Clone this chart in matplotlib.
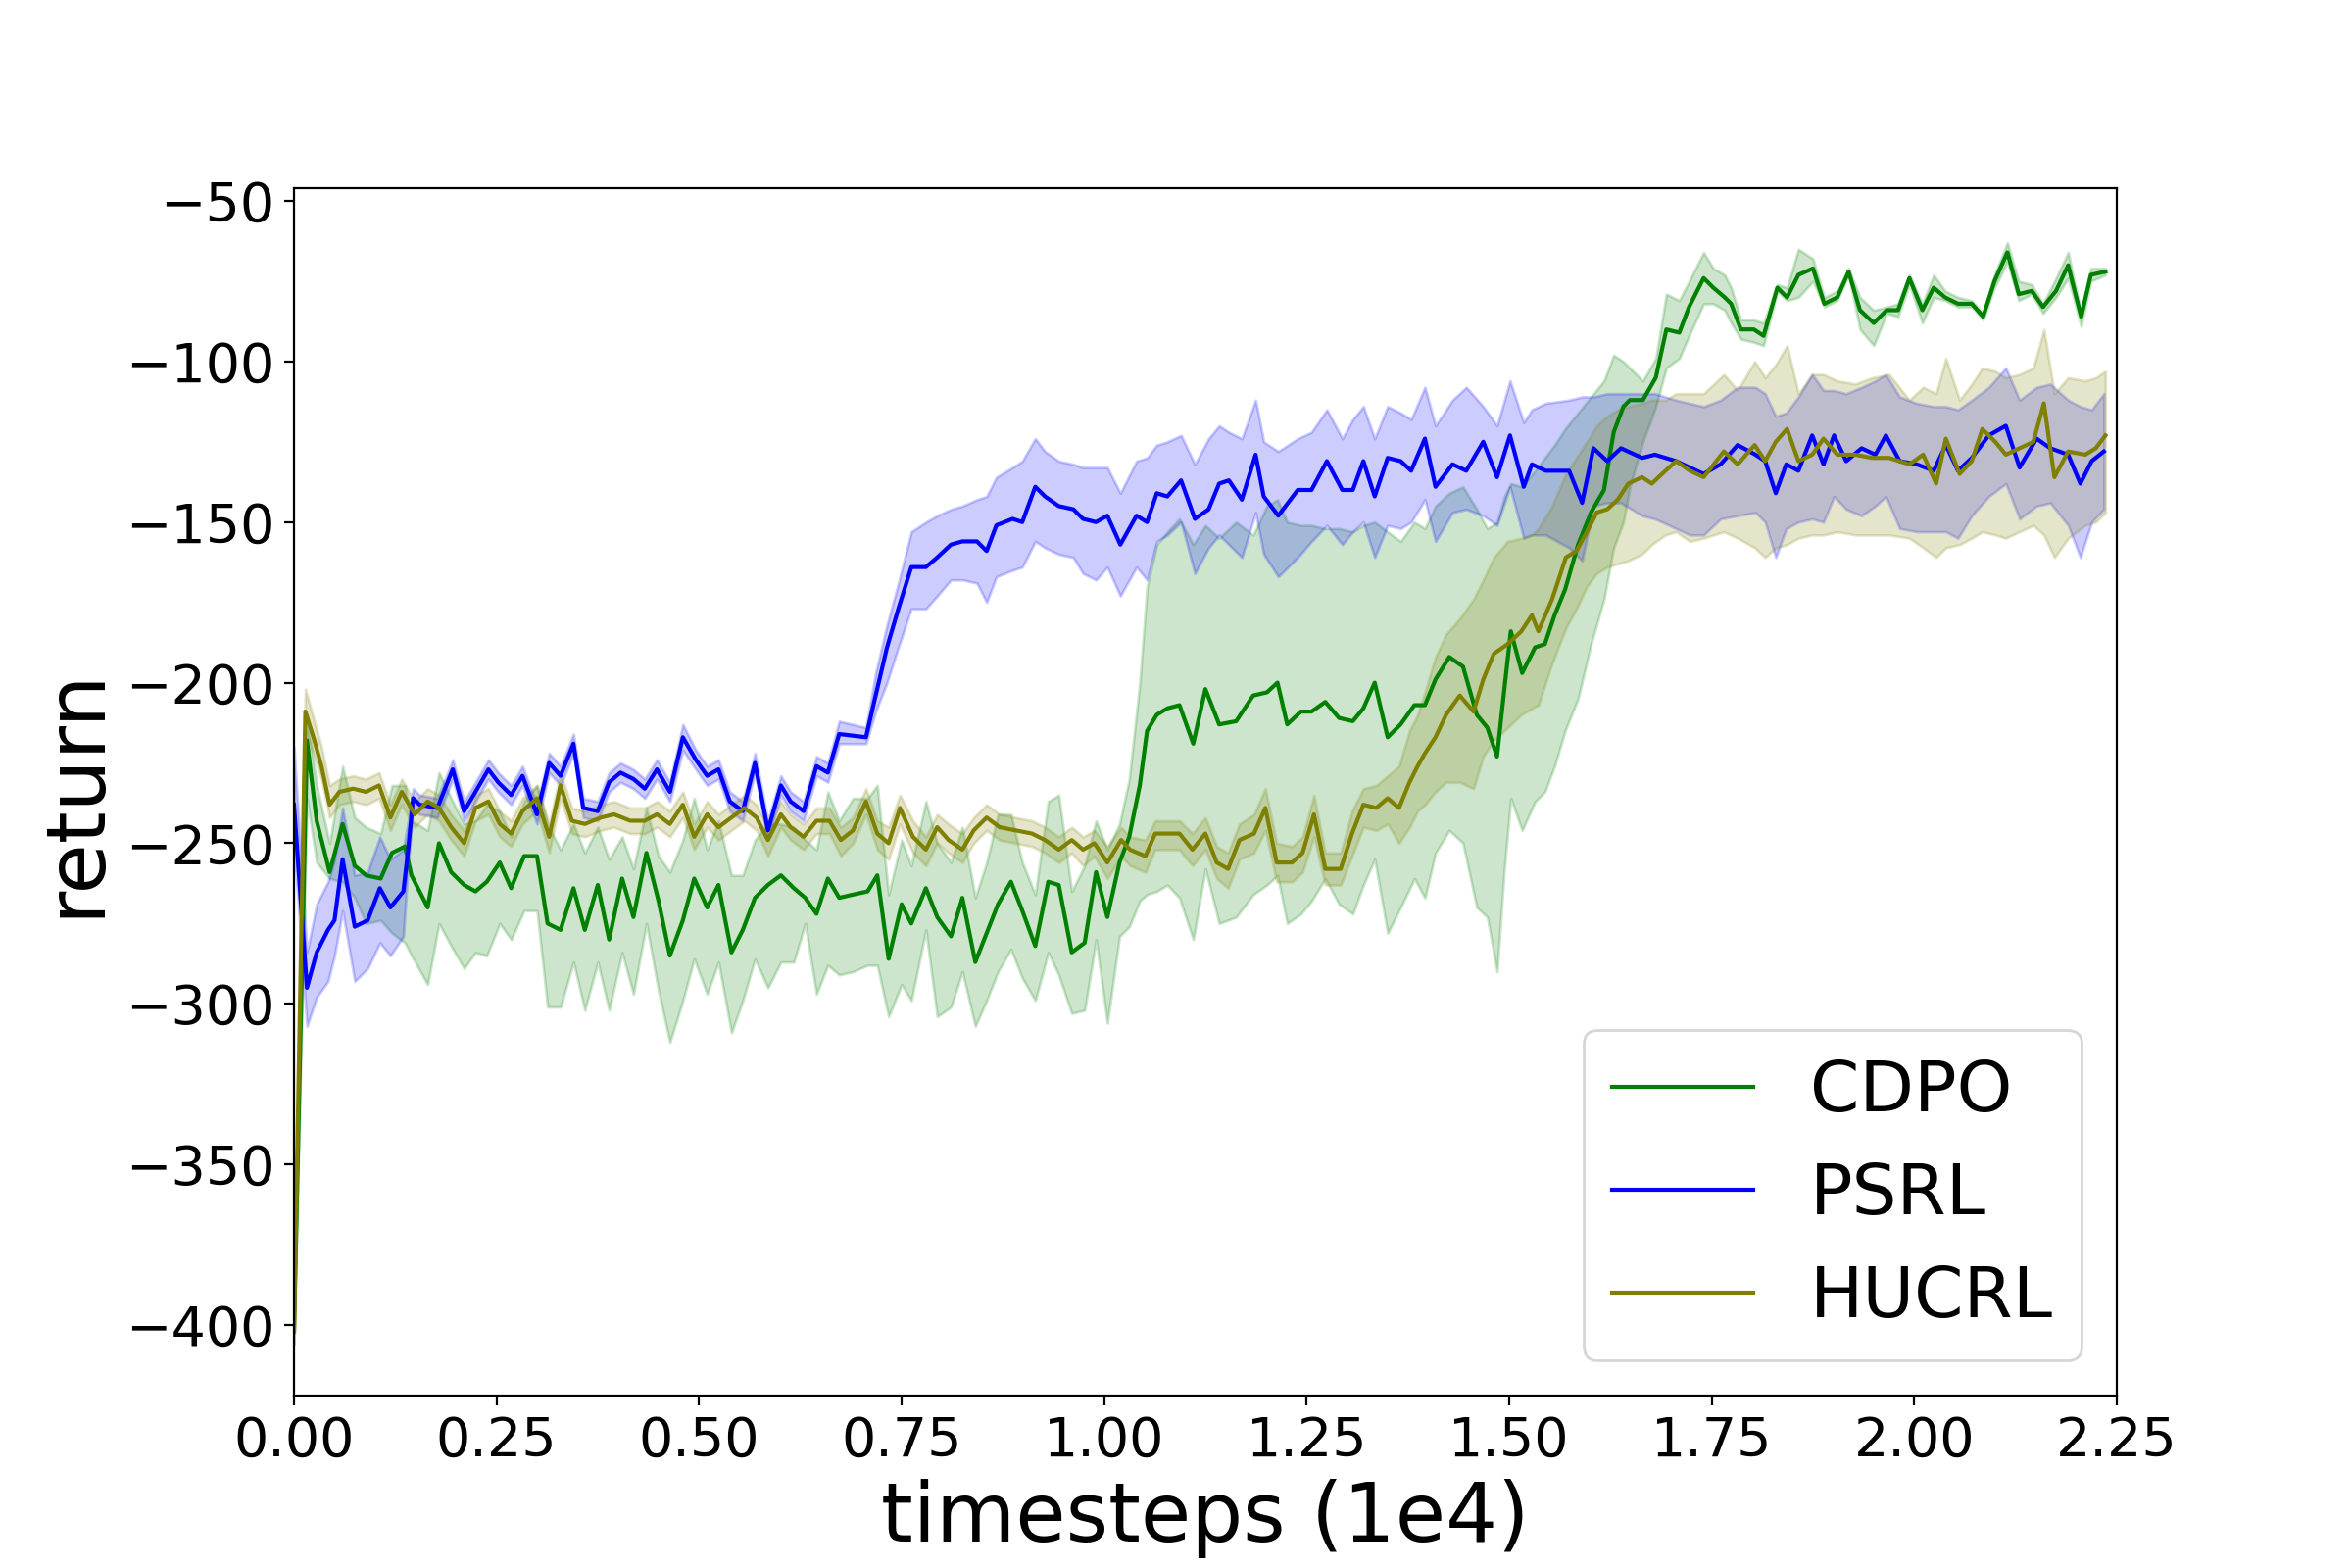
import matplotlib
matplotlib.use("Agg")
import matplotlib.pyplot as plt

# values: x in units of 1e4 timesteps, mean return and band edges

CDPO_X = [0.000, 0.016, 0.028, 0.044, 0.060, 0.075, 0.089, 0.107, 0.121, 0.137,
          0.145, 0.165, 0.179, 0.194, 0.210, 0.224, 0.238, 0.254, 0.268, 0.284,
          0.300, 0.313, 0.329, 0.345, 0.359, 0.375, 0.389, 0.405, 0.419, 0.435,
          0.450, 0.464, 0.480, 0.494, 0.510, 0.524, 0.540, 0.554, 0.569, 0.585,
          0.601, 0.617, 0.631, 0.645, 0.659, 0.673, 0.690, 0.708, 0.720, 0.734,
          0.750, 0.762, 0.780, 0.794, 0.811, 0.825, 0.841, 0.855, 0.869, 0.885,
          0.899, 0.915, 0.931, 0.944, 0.960, 0.976, 0.990, 1.004, 1.019, 1.031,
          1.044, 1.053, 1.065, 1.078, 1.093, 1.110, 1.125, 1.142, 1.163, 1.184,
          1.201, 1.214, 1.226, 1.243, 1.256, 1.273, 1.290, 1.307, 1.320, 1.334,
          1.350, 1.366, 1.383, 1.396, 1.409, 1.426, 1.443, 1.460, 1.473, 1.485,
          1.494, 1.502, 1.516, 1.532, 1.544, 1.556, 1.569, 1.585, 1.601, 1.617,
          1.629, 1.641, 1.649, 1.665, 1.681, 1.694, 1.710, 1.722, 1.740, 1.752,
          1.766, 1.774, 1.786, 1.802, 1.814, 1.831, 1.843, 1.857, 1.875, 1.889,
          1.905, 1.919, 1.933, 1.950, 1.966, 1.980, 1.994, 2.010, 2.024, 2.038,
          2.054, 2.071, 2.085, 2.099, 2.115, 2.129, 2.145, 2.159, 2.175, 2.190,
          2.206, 2.218, 2.236]
CDPO_MEAN = [-402, -218, -243, -259, -244, -257, -260, -261, -253, -251,
             -260, -270, -250, -259, -263, -265, -262, -256, -264, -254,
             -254, -275, -277, -264, -277, -263, -280, -261, -273, -253,
             -268, -285, -274, -261, -270, -263, -284, -277, -267, -263,
             -260, -264, -267, -272, -261, -267, -266, -265, -260, -286,
             -269, -275, -264, -273, -279, -267, -287, -278, -269, -262,
             -271, -282, -262, -263, -284, -281, -259, -273, -256, -248,
             -232, -215, -210, -208, -207, -219, -202, -213, -212, -204,
             -203, -200, -213, -209, -209, -206, -211, -212, -208, -200,
             -217, -213, -207, -207, -199, -192, -195, -210, -214, -223,
             -202, -184, -197, -189, -188, -179, -171, -157, -147, -140,
             -122, -114, -112, -112, -105, -90, -91, -83, -74, -77,
             -80, -82, -90, -90, -92, -77, -80, -73, -71, -82,
             -80, -72, -84, -88, -84, -84, -74, -84, -77, -80,
             -82, -82, -86, -75, -66, -79, -78, -83, -78, -70,
             -86, -73, -72]
CDPO_LO = [-406, -236, -256, -261, -262, -267, -275, -274, -278, -281,
           -285, -294, -275, -282, -289, -284, -285, -275, -280, -271,
           -271, -301, -301, -287, -302, -287, -302, -284, -297, -275,
           -296, -312, -299, -286, -297, -287, -309, -299, -286, -295,
           -287, -287, -275, -297, -288, -291, -290, -288, -288, -304,
           -294, -299, -277, -304, -301, -290, -307, -299, -290, -283,
           -292, -299, -284, -291, -303, -302, -280, -306, -279, -276,
           -268, -266, -265, -263, -267, -280, -258, -275, -273, -266,
           -263, -260, -275, -272, -268, -261, -269, -272, -263, -255,
           -278, -270, -261, -267, -253, -246, -250, -270, -273, -290,
           -258, -236, -246, -237, -234, -226, -215, -205, -188, -174,
           -158, -150, -139, -125, -114, -102, -99, -92, -82, -82,
           -84, -88, -93, -94, -95, -78, -81, -80, -75, -83,
           -81, -73, -90, -95, -85, -86, -76, -88, -80, -81,
           -83, -83, -87, -77, -69, -81, -79, -85, -80, -74,
           -89, -75, -73]
CDPO_HI = [-398, -210, -232, -250, -226, -242, -245, -247, -232, -232,
           -243, -246, -228, -236, -244, -243, -238, -240, -248, -237,
           -232, -244, -252, -244, -253, -245, -255, -248, -258, -239,
           -254, -259, -249, -236, -252, -243, -260, -260, -249, -244,
           -244, -245, -249, -252, -234, -243, -236, -236, -232, -266,
           -249, -257, -237, -250, -256, -245, -267, -256, -241, -241,
           -256, -266, -237, -235, -265, -257, -243, -252, -244, -230,
           -200, -170, -157, -153, -149, -157, -151, -155, -150, -154,
           -145, -143, -150, -151, -151, -152, -152, -153, -151, -150,
           -153, -156, -150, -152, -145, -141, -139, -146, -152, -150,
           -142, -138, -139, -134, -130, -126, -121, -116, -111, -106,
           -98, -100, -102, -106, -99, -79, -81, -75, -66, -71,
           -73, -77, -87, -87, -88, -76, -77, -65, -68, -80,
           -78, -71, -80, -84, -83, -82, -73, -82, -73, -78,
           -80, -81, -85, -73, -63, -75, -76, -82, -74, -66,
           -85, -71, -71]

PSRL_X = [0.000, 0.016, 0.028, 0.042, 0.050, 0.060, 0.075, 0.091, 0.106, 0.119,
          0.135, 0.141, 0.147, 0.155, 0.177, 0.196, 0.210, 0.224, 0.240, 0.252,
          0.268, 0.282, 0.300, 0.315, 0.329, 0.345, 0.357, 0.375, 0.389, 0.403,
          0.419, 0.433, 0.448, 0.464, 0.480, 0.496, 0.510, 0.524, 0.538, 0.554,
          0.569, 0.585, 0.601, 0.613, 0.629, 0.645, 0.659, 0.673, 0.706, 0.718,
          0.732, 0.746, 0.762, 0.780, 0.794, 0.811, 0.825, 0.843, 0.855, 0.867,
          0.887, 0.899, 0.915, 0.927, 0.944, 0.962, 0.974, 0.990, 1.004, 1.020,
          1.040, 1.053, 1.065, 1.078, 1.095, 1.112, 1.129, 1.142, 1.154, 1.170,
          1.187, 1.197, 1.215, 1.239, 1.256, 1.275, 1.294, 1.307, 1.320, 1.334,
          1.350, 1.366, 1.379, 1.396, 1.409, 1.430, 1.447, 1.468, 1.485, 1.501,
          1.518, 1.528, 1.545, 1.574, 1.590, 1.604, 1.621, 1.638, 1.664, 1.680,
          1.706, 1.723, 1.740, 1.761, 1.782, 1.804, 1.816, 1.829, 1.842, 1.857,
          1.874, 1.888, 1.901, 1.916, 1.935, 1.952, 1.965, 1.982, 2.003, 2.024,
          2.039, 2.054, 2.071, 2.092, 2.113, 2.130, 2.151, 2.168, 2.190, 2.205,
          2.219, 2.234]
PSRL_MEAN = [-238, -295, -284, -277, -274, -255, -276, -274, -264, -270,
             -265, -252, -236, -238, -239, -227, -240, -234, -227, -231,
             -235, -229, -241, -225, -229, -219, -239, -240, -231, -228,
             -230, -233, -227, -234, -217, -224, -229, -227, -237, -240,
             -225, -246, -232, -237, -240, -226, -228, -216, -217, -204,
             -189, -177, -164, -164, -161, -157, -156, -156, -159, -151,
             -149, -150, -139, -142, -145, -146, -149, -150, -148, -157,
             -148, -150, -141, -142, -137, -149, -146, -138, -137, -143,
             -129, -142, -148, -140, -140, -131, -140, -140, -131, -142,
             -130, -131, -134, -124, -139, -132, -134, -125, -136, -123,
             -139, -132, -134, -134, -144, -127, -131, -127, -130, -129,
             -131, -133, -135, -132, -126, -129, -131, -141, -132, -134,
             -123, -132, -123, -131, -127, -129, -123, -131, -132, -134,
             -126, -134, -130, -123, -120, -133, -124, -127, -129, -138,
             -131, -128]
PSRL_LO = [-250, -307, -298, -293, -285, -271, -293, -289, -281, -285,
           -279, -256, -239, -241, -242, -230, -243, -237, -230, -234,
           -238, -232, -244, -228, -232, -222, -242, -243, -234, -231,
           -233, -236, -230, -237, -221, -227, -232, -230, -240, -243,
           -228, -249, -235, -240, -243, -229, -231, -219, -219, -209,
           -200, -189, -177, -177, -173, -168, -168, -169, -175, -167,
           -165, -164, -156, -158, -160, -161, -166, -168, -164, -173,
           -164, -168, -156, -154, -150, -166, -158, -154, -157, -161,
           -147, -160, -167, -161, -156, -151, -157, -153, -150, -161,
           -151, -152, -150, -143, -156, -147, -146, -148, -151, -139,
           -155, -154, -154, -158, -162, -145, -144, -144, -148, -149,
           -152, -154, -154, -149, -148, -147, -150, -161, -152, -150,
           -149, -150, -142, -146, -148, -145, -142, -152, -153, -153,
           -153, -155, -148, -142, -138, -149, -145, -144, -151, -161,
           -150, -146]
PSRL_HI = [-220, -284, -269, -262, -255, -239, -260, -259, -248, -255,
           -252, -243, -233, -235, -236, -224, -237, -231, -224, -228,
           -232, -226, -238, -222, -226, -216, -236, -237, -228, -225,
           -227, -230, -224, -231, -213, -221, -226, -224, -234, -237,
           -222, -243, -229, -234, -237, -223, -225, -212, -214, -197,
           -182, -169, -153, -150, -148, -146, -145, -143, -142, -136,
           -133, -131, -124, -128, -131, -132, -133, -133, -133, -141,
           -131, -130, -126, -125, -123, -132, -124, -120, -122, -124,
           -112, -125, -128, -124, -122, -115, -124, -118, -114, -124,
           -114, -116, -118, -108, -120, -112, -108, -114, -120, -106,
           -119, -115, -113, -112, -111, -111, -110, -110, -110, -110,
           -112, -113, -114, -112, -108, -108, -110, -117, -116, -111,
           -104, -109, -109, -110, -108, -106, -104, -111, -113, -114,
           -114, -115, -112, -108, -102, -112, -108, -107, -112, -114,
           -115, -110]

HUCRL_X = [0.000, 0.014, 0.024, 0.034, 0.044, 0.056, 0.073, 0.089, 0.105, 0.119,
           0.133, 0.149, 0.165, 0.179, 0.194, 0.210, 0.224, 0.240, 0.254, 0.268,
           0.282, 0.300, 0.315, 0.329, 0.343, 0.359, 0.379, 0.395, 0.415, 0.433,
           0.448, 0.464, 0.480, 0.494, 0.510, 0.524, 0.540, 0.556, 0.571, 0.585,
           0.601, 0.613, 0.629, 0.645, 0.661, 0.675, 0.690, 0.706, 0.720, 0.734,
           0.748, 0.764, 0.780, 0.794, 0.808, 0.825, 0.839, 0.855, 0.871, 0.891,
           0.911, 0.927, 0.944, 0.960, 0.974, 0.988, 1.004, 1.021, 1.032, 1.051,
           1.063, 1.093, 1.109, 1.125, 1.139, 1.153, 1.167, 1.185, 1.199, 1.213,
           1.232, 1.245, 1.259, 1.273, 1.292, 1.306, 1.320, 1.336, 1.350, 1.364,
           1.377, 1.387, 1.396, 1.409, 1.422, 1.439, 1.456, 1.468, 1.481, 1.498,
           1.515, 1.528, 1.536, 1.553, 1.570, 1.583, 1.596, 1.608, 1.621, 1.634,
           1.647, 1.664, 1.676, 1.693, 1.706, 1.723, 1.740, 1.765, 1.782, 1.803,
           1.816, 1.829, 1.843, 1.857, 1.874, 1.888, 1.905, 1.927, 1.948, 1.969,
           1.994, 2.011, 2.027, 2.039, 2.056, 2.071, 2.084, 2.100, 2.113, 2.130,
           2.147, 2.160, 2.173, 2.190, 2.211, 2.224, 2.236]
HUCRL_MEAN = [-402, -209, -217, -226, -238, -234, -233, -234, -232, -242,
              -234, -241, -237, -239, -245, -250, -239, -237, -244, -247,
              -240, -236, -248, -232, -243, -244, -242, -241, -243, -243,
              -241, -244, -238, -248, -241, -245, -242, -239, -242, -249,
              -241, -245, -248, -243, -243, -249, -246, -237, -247, -250,
              -239, -248, -252, -245, -249, -252, -246, -242, -245, -246,
              -247, -249, -252, -249, -252, -250, -256, -249, -252, -254,
              -247, -247, -252, -247, -256, -258, -249, -247, -239, -256,
              -256, -253, -241, -258, -258, -247, -238, -239, -236, -239,
              -231, -226, -222, -217, -210, -204, -209, -199, -191, -188,
              -184, -179, -184, -174, -161, -159, -153, -147, -146, -143,
              -138, -136, -138, -134, -131, -134, -136, -128, -132, -126,
              -131, -125, -121, -131, -129, -124, -129, -129, -130, -130,
              -132, -129, -138, -124, -135, -131, -121, -125, -129, -127,
              -125, -113, -136, -128, -129, -127, -123]
HUCRL_LO = [-406, -215, -222, -230, -242, -238, -237, -238, -236, -246,
            -238, -245, -241, -243, -249, -254, -243, -241, -248, -251,
            -244, -240, -253, -236, -247, -248, -246, -245, -247, -247,
            -245, -248, -242, -252, -245, -249, -246, -243, -246, -254,
            -245, -249, -252, -247, -247, -254, -250, -241, -252, -255,
            -244, -253, -257, -250, -253, -256, -250, -246, -249, -250,
            -251, -253, -256, -253, -257, -254, -261, -254, -257, -259,
            -252, -252, -257, -252, -261, -264, -255, -253, -246, -262,
            -262, -259, -248, -263, -263, -254, -245, -246, -244, -250,
            -245, -240, -238, -234, -231, -231, -233, -223, -218, -214,
            -210, -208, -207, -194, -183, -177, -170, -166, -164, -163,
            -162, -160, -157, -154, -153, -156, -155, -153, -155, -158,
            -161, -158, -157, -155, -154, -154, -153, -154, -154, -154,
            -155, -158, -161, -158, -157, -155, -153, -154, -155, -153,
            -151, -154, -161, -155, -151, -150, -147]
HUCRL_HI = [-398, -202, -211, -220, -232, -230, -229, -230, -228, -238,
            -230, -237, -233, -235, -241, -246, -235, -233, -240, -243,
            -236, -232, -244, -228, -239, -240, -238, -237, -239, -239,
            -237, -240, -234, -244, -237, -241, -238, -235, -238, -245,
            -237, -241, -244, -239, -239, -245, -242, -233, -243, -245,
            -235, -243, -248, -241, -244, -247, -242, -238, -241, -242,
            -243, -245, -248, -245, -248, -246, -251, -245, -248, -249,
            -243, -243, -247, -242, -251, -253, -244, -241, -233, -250,
            -251, -248, -235, -253, -253, -240, -233, -232, -229, -226,
            -215, -210, -203, -192, -185, -180, -174, -168, -161, -156,
            -155, -154, -152, -145, -135, -130, -125, -120, -117, -115,
            -114, -113, -112, -112, -110, -110, -110, -104, -109, -100,
            -105, -101, -95, -110, -104, -104, -106, -107, -105, -104,
            -112, -108, -110, -99, -112, -107, -102, -103, -105, -104,
            -102, -90, -110, -105, -106, -105, -103]

SERIES = [
    ("CDPO", "green", CDPO_X, CDPO_MEAN, CDPO_LO, CDPO_HI),
    ("PSRL", "blue", PSRL_X, PSRL_MEAN, PSRL_LO, PSRL_HI),
    ("HUCRL", "olive", HUCRL_X, HUCRL_MEAN, HUCRL_LO, HUCRL_HI),
]


def plot_returns():
    plt.figure(figsize=(12, 8))
    for name, color, xs, mean, lo, hi in SERIES:
        plt.plot(xs, mean, color=color, linewidth=1.5, label=name)
        plt.fill_between(xs, lo, hi, color=color, alpha=0.2)

    plt.xlim(0, 2.25)
    plt.ylim(-422, -46)
    plt.xticks(fontsize=20)
    plt.yticks(fontsize=20)
    plt.xlabel("timesteps (1e4)", fontsize=30)
    plt.ylabel("return", fontsize=30)
    plt.legend(loc="lower right", fontsize=26)
    plt.savefig("out.png", dpi=200)
    plt.close()


if __name__ == "__main__":
    plot_returns()
